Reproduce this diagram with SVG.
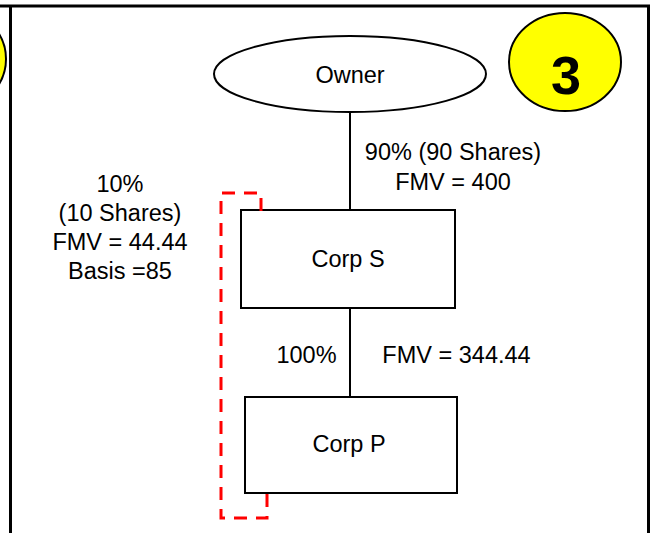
<svg xmlns="http://www.w3.org/2000/svg" width="652" height="533" viewBox="0 0 652 533">
<style>
text{font-family:"Liberation Sans",Arial,sans-serif;font-size:23.5px;fill:#000}
.c{text-anchor:middle}
.box{fill:#fff;stroke:#000;stroke-width:2}
.conn{stroke:#000;stroke-width:2;fill:none}
.badge{fill:#ffff00;stroke:#000;stroke-width:2}
.frame{stroke:#000;stroke-width:3;fill:none}
.bracket{stroke:#ff0000;stroke-width:3;fill:none;stroke-dasharray:13 9}
</style>
<rect width="652" height="533" fill="#fff"/>
<g id="frame">
<line class="frame" x1="0" y1="6" x2="650" y2="6"/>
<line class="frame" x1="10.5" y1="6" x2="10.5" y2="533"/>
<line class="frame" x1="648.5" y1="6" x2="648.5" y2="533"/>
</g>
<g id="badge-left"><ellipse class="badge" cx="-44" cy="59" rx="50" ry="49"/></g>
<g id="badge-3">
<ellipse class="badge" cx="565" cy="62" rx="56" ry="49"/>
<text class="c" x="566" y="94" style="font-size:54px;font-weight:bold">3</text>
</g>
<g id="connectors">
<line class="conn" x1="350" y1="112" x2="350" y2="210"/>
<line class="conn" x1="350" y1="308" x2="350" y2="397"/>
</g>
<g id="owner">
<ellipse class="box" cx="350" cy="74" rx="136" ry="38"/>
<text class="c" x="350" y="83">Owner</text>
</g>
<g id="corp-s">
<rect class="box" x="241" y="210" width="214" height="98"/>
<text class="c" x="348" y="267">Corp S</text>
</g>
<g id="corp-p">
<rect class="box" x="245" y="397" width="212" height="96"/>
<text class="c" x="349" y="452">Corp P</text>
</g>
<g id="bracket">
<polyline class="bracket" points="261,211 261,193 221,193 221,518 267,518 267,493"/>
</g>
<g id="labels">
<text class="c" x="453" y="160">90% (90 Shares)</text>
<text class="c" x="453" y="190">FMV = 400</text>
<text class="c" x="120" y="192">10%</text>
<text class="c" x="120" y="221">(10 Shares)</text>
<text class="c" x="120" y="250">FMV = 44.44</text>
<text class="c" x="120" y="279">Basis =85</text>
<text class="c" x="306.5" y="363">100%</text>
<text class="c" x="456.5" y="363">FMV = 344.44</text>
</g>
</svg>
